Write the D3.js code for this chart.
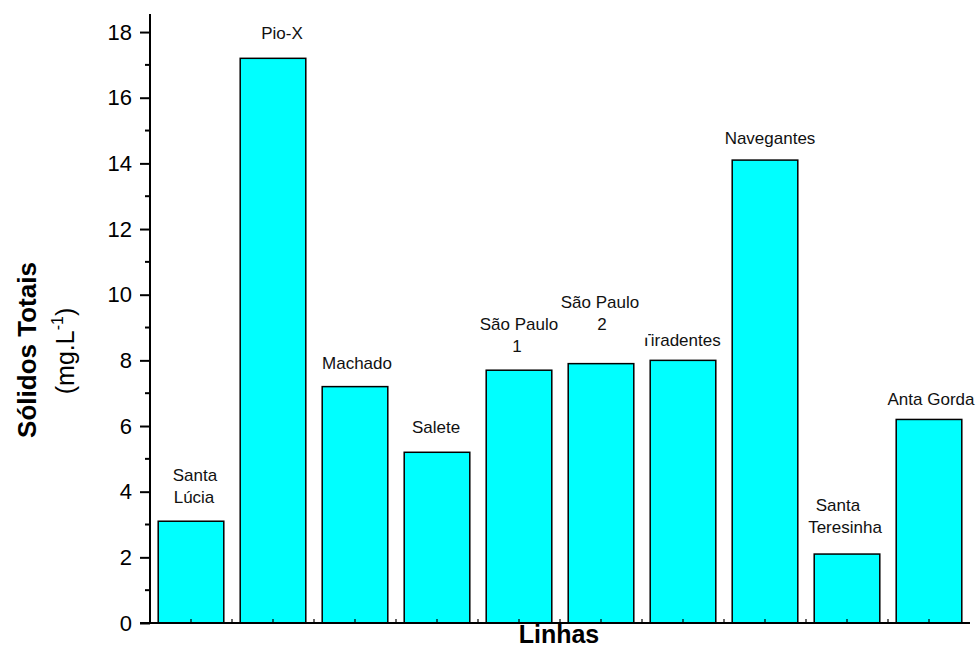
<!DOCTYPE html>
<html>
<head>
<meta charset="utf-8">
<script src="https://cdn.jsdelivr.net/npm/d3@7"></script>
<style>
  html, body { margin: 0; padding: 0; background: #fff; }
  svg { display: block; font-family: "Liberation Sans", Arial, sans-serif; }
</style>
</head>
<body>
<svg id="chart" width="979" height="648"></svg>
<script>
// ---- data ----
const categories = ["Santa Lúcia", "Pio-X", "Machado", "Salete", "São Paulo 1", "São Paulo 2", "Tiradentes", "Navegantes", "Santa Teresinha", "Anta Gorda"];
const labelLines = [["Santa", "Lúcia"], ["Pio-X"], ["Machado"], ["Salete"], ["São Paulo", "1"], ["São Paulo", "2"], ["Tiradentes"], ["Navegantes"], ["Santa", "Teresinha"], ["Anta Gorda"]];
const values = [3.1, 17.2, 7.2, 5.2, 7.7, 7.9, 8.0, 14.1, 2.1, 6.2];
const yTicks = [0, 2, 4, 6, 8, 10, 12, 14, 16, 18];
const xTitle = "Linhas";
const yTitle = "Sólidos Totais";

// ---- layout ----
const svg = d3.select("#chart");
const x = d3.scaleLinear().domain([0.5, 10.5]).range([150, 970]);
const y = d3.scaleLinear().domain([0, 18.55]).range([623, 14]);
const barW = 0.8;

// label placement tweaks (dx from bar centre, gap from bar top to last baseline, per-line dx)
const labelLayout = [
  {dx: [4, 3], gap: 18},
  {dx: [9], gap: 19},
  {dx: [2], gap: 18},
  {dx: [-1], gap: 19},
  {dx: [0, -2], gap: 18},
  {dx: [-1, 1], gap: 34, box: true},
  {anchorStart: 641, gap: 14},
  {dx: [5], gap: 16},
  {dx: [-9, -2], gap: 21},
  {dx: [2], gap: 14}
];

// bars
svg.append("g").selectAll("rect").data(values).join("rect")
  .attr("x", (d, i) => x(i + 1 - barW / 2))
  .attr("width", x(barW) - x(0))
  .attr("y", d => y(d))
  .attr("height", d => y(0) - y(d))
  .attr("fill", "#00FFFF")
  .attr("stroke", "#000")
  .attr("stroke-width", 1.5);

// axes
const yAxis = d3.axisLeft(y).tickValues(yTicks).tickSize(10).tickPadding(8).tickFormat(d3.format("d"));
const gy = svg.append("g").attr("transform", "translate(150,0)").call(yAxis);
gy.select(".domain").remove();
gy.selectAll(".tick line").attr("stroke-width", 2);
gy.selectAll(".tick text").attr("font-size", 22).attr("font-family", "Liberation Sans, Arial, sans-serif").attr("fill", "#000");
// minor y ticks
const yMinor = d3.range(1, 19, 2);
svg.append("g").selectAll("line").data(yMinor).join("line")
  .attr("x1", 145).attr("x2", 150)
  .attr("y1", d => y(d)).attr("y2", d => y(d))
  .attr("stroke", "#000").attr("stroke-width", 2);
// y axis line
svg.append("line").attr("x1", 150).attr("x2", 150).attr("y1", y(0) + 1).attr("y2", y.range()[1])
  .attr("stroke", "#000").attr("stroke-width", 2);

// x axis line and inner ticks
svg.append("line").attr("x1", 140).attr("x2", x.range()[1]).attr("y1", y(0)).attr("y2", y(0))
  .attr("stroke", "#000").attr("stroke-width", 2);
const xTickVals = d3.range(1, 21).map(k => 0.5 + k * 0.5).filter(v => v < 10.5);
svg.append("g").selectAll("line").data(xTickVals).join("line")
  .attr("x1", d => x(d)).attr("x2", d => x(d))
  .attr("y1", y(0)).attr("y2", y(0) - 4)
  .attr("stroke", "#000").attr("stroke-width", 1.2);

// bar labels
const lineH = 22;
const gl = svg.append("g").attr("font-size", 17).attr("fill", "#111");
const order = [0, 1, 2, 3, 6, 7, 8, 9, 5, 4]; // São Paulo 2 box overlaps Tiradentes; São Paulo 1 stays on top
order.forEach(i => {
  const lines = labelLines[i];
  const L = labelLayout[i];
  const cx = x(i + 1);
  const lastBase = y(values[i]) - L.gap;
  const g = gl.append("g");
  lines.forEach((t, j) => {
    const base = lastBase - (lines.length - 1 - j) * lineH;
    const tx = g.append("text").attr("y", base).text(t);
    if (L.anchorStart !== undefined) {
      tx.attr("x", L.anchorStart).attr("text-anchor", "start");
    } else {
      tx.attr("x", cx + L.dx[j]).attr("text-anchor", "middle");
    }
  });
  if (L.box) {
    const bb = g.node().getBBox();
    g.insert("rect", "text")
      .attr("x", bb.x).attr("y", bb.y - 3)
      .attr("width", bb.width + 9).attr("height", bb.height + 7)
      .attr("fill", "#fff");
  }
});

// axis titles
svg.append("text")
  .attr("x", 559).attr("y", 642.5)
  .attr("text-anchor", "middle")
  .attr("font-size", 25).attr("font-weight", "bold")
  .text(xTitle);

svg.append("text")
  .attr("transform", "translate(36,350) rotate(-90)")
  .attr("text-anchor", "middle")
  .attr("font-size", 26).attr("font-weight", "bold")
  .text(yTitle);

const unit = svg.append("text")
  .attr("transform", "translate(74,351) rotate(-90)")
  .attr("text-anchor", "middle")
  .attr("font-size", 25);
unit.append("tspan").text("(mg.L");
unit.append("tspan").attr("font-size", 16).attr("dy", -11).text("-1");
unit.append("tspan").attr("dy", 11).text(")");
</script>
</body>
</html>
